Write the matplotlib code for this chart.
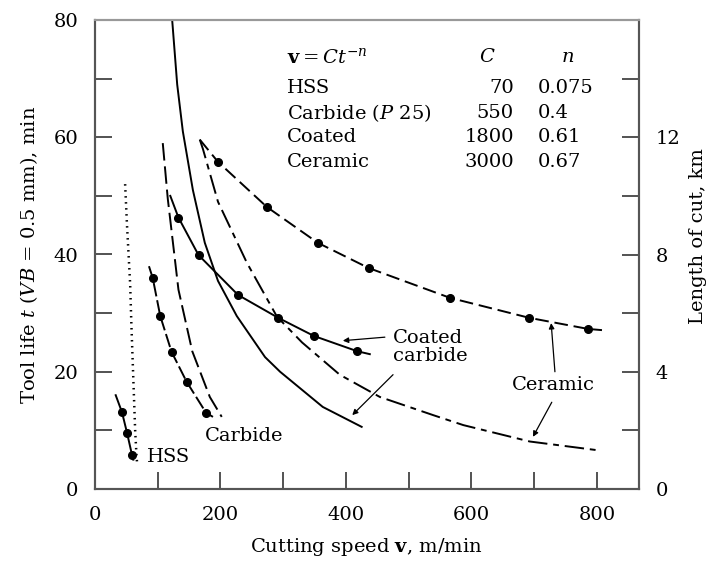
## Tool life / length of cut vs. cutting speed for four tool materials
import numpy as np
import matplotlib.pyplot as plt

plt.rcParams['font.family'] = 'DejaVu Serif'
plt.rcParams['mathtext.fontset'] = 'dejavuserif'
plt.rcParams['font.size'] = 14

## Taylor curves, tool life t in min (left axis), no markers
hss_v = [48, 51, 54, 56, 58, 60, 62, 64, 66, 67]
hss_t = [52, 45, 39, 35, 28, 22, 16, 10, 6, 4.5]
carb_v = [108, 116, 133, 155, 183, 202]
carb_t = [59, 49.5, 34, 23.5, 15.7, 12.3]
coat_v = [123, 131, 140, 156, 175, 196, 226, 271, 295, 363, 425]
coat_t = [80, 69, 61, 51, 42, 35.5, 29.5, 22.5, 20, 14, 10.6]
cer_v = [167, 172, 196, 242, 290, 330, 390, 454, 539, 587, 693, 802]
cer_t = [59.6, 58, 49, 38.6, 29.4, 25, 19.5, 15.7, 12.6, 10.9, 8.1, 6.6]

## Measured length of cut in km (right axis), with data points
hss_v_cut = [33, 43, 51, 59, 61]
hss_L = [3.2, 2.62, 1.92, 1.16, 1.0]
carb_v_cut = [86, 92, 104, 122, 146, 177, 188]
carb_L = [7.6, 7.2, 5.9, 4.68, 3.66, 2.6, 2.46]
coat_v_cut = [120, 133, 165, 228, 292, 349, 418, 438]
coat_L = [10.0, 9.26, 7.98, 6.62, 5.84, 5.22, 4.7, 4.6]
cer_v_cut = [167, 196, 274, 355, 436, 566, 692, 786, 808]
cer_L = [11.92, 11.16, 9.62, 8.4, 7.54, 6.52, 5.84, 5.46, 5.42]

## Table of Taylor constants
tools = ['HSS', 'Carbide ($P$ 25)', 'Coated', 'Ceramic']
C_vals = ['70', '550', '1800', '3000']
n_vals = ['0.075', '0.4', '0.61', '0.67']

fig = plt.figure(figsize=(7.13, 5.68), dpi=100)
ax = fig.add_axes([95/713, 79/568, 544/713, 469/568])
ax2 = ax.twinx()

lw = 1.4
# tool life curves
ax.plot(hss_v, hss_t, color='black', lw=1.8, linestyle=(0, (0.6, 1.8)))
ax.plot(carb_v, carb_t, color='black', lw=lw, linestyle=(0, (9, 3)))
ax.plot(coat_v, coat_t, color='black', lw=lw, linestyle='-')
ax.plot(cer_v, cer_t, color='black', lw=lw, linestyle=(0, (10, 3, 3, 3)))

# length of cut curves
mk = dict(color='black', lw=lw, marker='o', markersize=5.5)
ax2.plot(hss_v_cut, hss_L, linestyle='-', markevery=[1, 2, 3], **mk)
ax2.plot(carb_v_cut, carb_L, linestyle=(0, (7, 2)), markevery=[1, 2, 3, 4, 5], **mk)
ax2.plot(coat_v_cut, coat_L, linestyle='-', markevery=[1, 2, 3, 4, 5, 6], **mk)
ax2.plot(cer_v_cut, cer_L, linestyle=(0, (7, 3)), markevery=[1, 2, 3, 4, 5, 6, 7], **mk)

ax.set_xlim(0, 867)
ax.set_ylim(0, 80)
ax2.set_ylim(0, 16)

ax.set_xticks([0, 200, 400, 600, 800])
ax.set_xticks(np.arange(0, 900, 100), minor=True)
ax.set_yticks([0, 20, 40, 60, 80])
ax.set_yticks(np.arange(0, 90, 10), minor=True)
ax2.set_yticks([0, 4, 8, 12])
ax2.set_yticks(np.arange(0, 16, 2), minor=True)

for a in (ax, ax2):
    a.tick_params(which='both', direction='in', length=12, width=1.3,
                  pad=12, color='#444444', labelsize=14)
    for s in a.spines.values():
        s.set_color('#555555')
        s.set_linewidth(1.5)
    a.spines['top'].set_color('#999999')
ax.tick_params(which='both', right=False, top=False)

ax.set_xlabel(r'Cutting speed $\mathbf{v}$, m/min', fontsize=14)
ax.xaxis.set_label_coords(0.498, -0.100)
ax.set_ylabel(r'Tool life $t$ ($VB$ = 0.5 mm), min', fontsize=14)
ax.yaxis.set_label_coords(-0.102, 0.5)
ax2.set_ylabel('Length of cut, km', fontsize=14)
ax2.yaxis.set_label_coords(1.092, 0.54)

# Taylor constant table
tr = ax.transAxes
ax.text(0.353, 0.921, r'$\mathbf{v} = C t^{-n}$', transform=tr, ha='left', va='center', fontsize=14)
ax.text(0.721, 0.921, '$C$', transform=tr, ha='center', va='center', fontsize=14)
ax.text(0.868, 0.921, '$n$', transform=tr, ha='center', va='center', fontsize=14)
row_y = [0.855, 0.802, 0.751, 0.697]
for i in range(len(tools)):
    ax.text(0.353, row_y[i], tools[i], transform=tr, ha='left', va='center', fontsize=14)
    ax.text(0.770, row_y[i], C_vals[i], transform=tr, ha='right', va='center', fontsize=14)
    ax.text(0.814, row_y[i], n_vals[i], transform=tr, ha='left', va='center', fontsize=14)

# curve labels
ax.text(83, 5.5, 'HSS', ha='left', va='center', fontsize=14)
ax.text(175, 9.0, 'Carbide', ha='left', va='center', fontsize=14)
ax.text(475, 24.3, 'Coated\ncarbide', ha='left', va='center', fontsize=14, linespacing=1.0)
ax.text(730, 17.7, 'Ceramic', ha='center', va='center', fontsize=14)

arr = dict(arrowstyle='-|>', lw=0.9, color='black', mutation_scale=8, shrinkA=0, shrinkB=0)
ax.annotate('', xy=(395, 25.3), xytext=(462, 25.9), arrowprops=arr)
ax.annotate('', xy=(410, 12.6), xytext=(475, 19.5), arrowprops=arr)
ax.annotate('', xy=(727, 28.3), xytext=(733, 20.0), arrowprops=arr)
ax.annotate('', xy=(698, 8.9), xytext=(728, 14.8), arrowprops=arr)

plt.savefig('out.png', dpi=100)
